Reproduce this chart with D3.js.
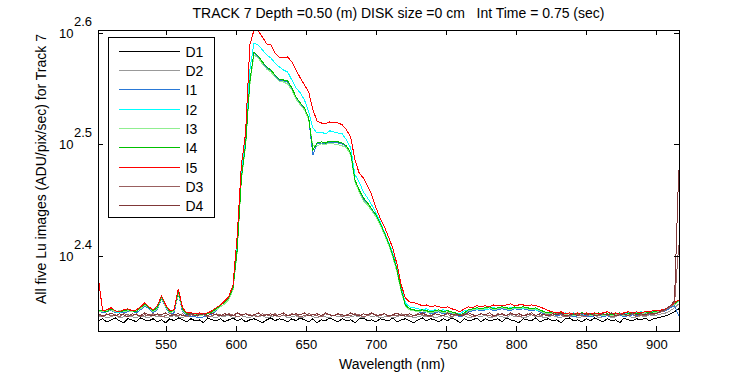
<!DOCTYPE html>
<html>
<head>
<meta charset="utf-8">
<script src="https://cdn.jsdelivr.net/npm/d3@7"></script>
<style>
  body { margin: 0; background: #fff; }
  svg { display: block; font-family: 'Liberation Sans', Arial, sans-serif; }
</style>
</head>
<body>
<svg id="chart" width="750" height="375"></svg>
<script>
// wavelength sampling of the spectra (nm), one sample every 3 nm
const wavelengths = d3.range(502, 917, 3)

// tick labels
const xTicks = [550, 600, 650, 700, 750, 800, 850, 900]
const yTickExponents = ['2.4', '2.5', '2.6']

const seriesNames = ['D1', 'D2', 'I1', 'I2', 'I3', 'I4', 'I5', 'D3', 'D4']

// Lu values (ADU/pix/sec)
const d1 = [
  219.7, 220.6, 219.2, 220.1, 221.0, 219.7, 218.8, 220.6, 220.1, 219.2,
  221.0, 220.1, 219.7, 220.6, 219.2, 220.1, 218.8, 220.6, 219.7, 221.0,
  220.1, 219.2, 220.6, 219.7, 220.1, 218.8, 221.0, 220.1, 219.7, 220.6,
  219.2, 220.1, 221.0, 219.7, 220.6, 219.2, 220.1, 220.6, 219.7, 218.8,
  220.1, 221.0, 219.7, 220.6, 220.1, 219.2, 220.6, 219.7, 221.0, 220.1,
  219.2, 220.6, 218.8, 220.1, 219.7, 221.0, 220.1, 219.2, 220.6, 219.7,
  220.1, 218.8, 220.6, 221.0, 219.7, 220.1, 219.2, 220.6, 220.1, 219.7,
  221.0, 219.2, 220.1, 220.6, 219.7, 218.8, 220.1, 221.0, 219.7, 220.6,
  220.1, 219.2, 220.6, 219.7, 221.0, 220.1, 218.8, 220.6, 219.7, 220.1,
  221.0, 219.2, 220.6, 219.7, 220.1, 220.6, 219.2, 221.0, 220.1, 219.7,
  218.8, 220.6, 220.1, 219.7, 221.0, 219.2, 220.1, 220.6, 219.7, 220.1,
  218.8, 220.6, 221.0, 219.7, 220.1, 219.2, 220.6, 219.7, 221.0, 220.1,
  219.2, 220.6, 219.7, 220.1, 218.8, 221.0, 220.1, 219.7, 220.6, 220.1,
  221.0, 219.7, 220.6, 221.0, 221.5, 222.0, 222.9, 223.8, 225.2
]
const d2 = [
  221.5, 222.0, 221.0, 221.5, 222.4, 221.0, 221.5, 222.0, 221.5, 221.0,
  222.0, 221.5, 221.0, 222.4, 221.5, 222.0, 221.0, 221.5, 222.0, 221.5,
  221.0, 222.0, 221.5, 222.4, 221.0, 221.5, 222.0, 221.5, 221.0, 222.0,
  221.5, 222.4, 221.0, 221.5, 222.0, 221.5, 221.0, 222.4, 221.5, 222.0,
  221.0, 221.5, 222.0, 221.5, 222.4, 221.0, 221.5, 222.0, 221.0, 221.5,
  222.4, 221.5, 221.0, 222.0, 221.5, 221.0, 222.4, 221.5, 222.0, 221.0,
  221.5, 222.0, 221.5, 221.0, 222.4, 221.5, 222.0, 221.0, 221.5, 222.0,
  221.0, 221.5, 222.4, 221.5, 222.0, 221.0, 221.5, 222.0, 221.5, 222.4,
  221.0, 221.5, 222.0, 221.5, 221.0, 222.4, 221.5, 222.0, 221.0, 221.5,
  222.0, 221.5, 222.4, 221.0, 221.5, 222.0, 221.5, 221.0, 222.4, 221.5,
  222.0, 221.0, 221.5, 222.4, 221.5, 222.0, 221.0, 221.5, 222.0, 221.5,
  221.0, 222.4, 221.5, 222.0, 221.0, 221.5, 222.0, 221.5, 222.4, 221.0,
  221.5, 222.0, 221.0, 221.5, 222.4, 221.5, 222.0, 221.0, 221.5, 222.0,
  221.5, 222.4, 222.0, 222.4, 222.9, 223.3, 224.3, 225.7, 227.5
]
const i1 = [
  224.3, 223.3, 223.8, 224.7, 223.3, 223.8, 223.3, 223.8, 224.3, 223.3,
  224.7, 226.6, 225.2, 223.3, 224.7, 229.9, 225.7, 222.9, 223.3, 232.2,
  223.8, 222.0, 221.5, 221.5, 221.0, 221.5, 222.0, 222.9, 224.3, 226.1,
  227.5, 229.9, 234.7, 253.7, 294.5, 315.3, 359.0, 382.0, 379.0, 374.2,
  370.4, 368.1, 364.3, 361.3, 360.5, 359.8, 354.6, 348.2, 343.8, 340.3,
  333.4, 309.5, 316.6, 317.2, 316.6, 317.9, 317.2, 317.2, 316.6, 314.7,
  310.2, 293.3, 287.3, 282.6, 279.7, 276.2, 272.9, 268.4, 262.9, 257.4,
  251.1, 243.6, 233.7, 226.6, 224.7, 224.3, 223.8, 223.3, 223.8, 222.9,
  223.3, 223.8, 222.9, 223.3, 222.9, 222.4, 221.5, 222.4, 223.8, 224.3,
  224.7, 224.3, 224.7, 225.2, 224.3, 224.7, 225.2, 224.7, 224.3, 225.2,
  224.7, 225.2, 224.7, 224.3, 224.7, 223.8, 222.9, 222.4, 222.9, 222.0,
  222.4, 222.0, 222.4, 221.5, 222.0, 222.4, 222.0, 221.5, 222.0, 222.4,
  221.5, 222.0, 221.5, 222.0, 222.4, 221.5, 222.0, 222.4, 222.0, 222.4,
  222.9, 222.4, 222.9, 223.3, 223.8, 224.3, 225.7, 226.6, 222.0
]
const i2 = [
  224.3, 223.8, 224.3, 225.2, 223.8, 223.3, 224.3, 224.7, 223.8, 224.3,
  225.7, 227.5, 225.7, 224.3, 226.1, 230.3, 226.6, 223.8, 224.3, 232.7,
  225.2, 222.9, 222.4, 222.4, 222.9, 222.4, 222.9, 223.8, 225.2, 226.6,
  228.4, 230.3, 235.6, 256.9, 298.8, 319.2, 368.8, 390.0, 388.4, 384.4,
  380.5, 378.1, 374.2, 371.2, 368.8, 367.3, 361.3, 355.4, 351.8, 346.7,
  338.2, 327.3, 323.8, 324.5, 323.2, 325.3, 324.5, 323.8, 323.2, 319.2,
  314.0, 297.0, 292.7, 286.7, 283.2, 279.1, 274.6, 269.5, 264.0, 258.5,
  252.7, 245.0, 235.1, 228.0, 226.1, 225.7, 225.2, 224.7, 225.2, 224.3,
  224.7, 224.3, 224.7, 224.3, 223.8, 223.3, 222.9, 224.3, 224.7, 225.2,
  224.7, 225.2, 224.7, 225.2, 225.7, 225.2, 225.7, 225.2, 225.7, 225.2,
  225.7, 225.2, 225.7, 225.2, 224.7, 224.3, 223.8, 223.3, 222.9, 223.3,
  222.9, 223.3, 222.9, 223.3, 222.4, 222.9, 223.3, 222.4, 222.9, 223.3,
  222.9, 222.4, 223.3, 222.9, 223.3, 222.9, 223.3, 222.9, 223.3, 223.8,
  223.3, 223.8, 223.8, 224.3, 224.7, 225.2, 226.1, 227.5, 228.9
]
const i3 = [
  224.3, 223.8, 224.3, 224.7, 223.8, 224.3, 223.8, 224.3, 223.8, 224.3,
  225.2, 227.0, 225.7, 223.8, 225.2, 230.3, 226.1, 223.3, 224.3, 232.7,
  224.7, 222.4, 222.9, 222.4, 222.0, 222.4, 222.9, 223.3, 224.7, 226.1,
  227.5, 229.4, 234.2, 252.7, 293.9, 314.7, 357.6, 380.5, 378.1, 373.4,
  369.6, 367.3, 363.5, 360.5, 359.8, 358.3, 353.9, 347.4, 343.1, 339.6,
  332.7, 315.3, 315.3, 316.6, 316.0, 317.2, 316.6, 316.0, 315.3, 314.0,
  309.5, 292.7, 286.7, 281.4, 279.1, 275.7, 272.3, 267.9, 262.4, 256.9,
  250.5, 243.1, 233.2, 226.6, 224.7, 224.3, 223.8, 224.3, 223.8, 223.3,
  223.8, 224.3, 223.3, 223.8, 223.3, 222.9, 222.0, 222.9, 224.3, 224.7,
  225.2, 224.7, 225.2, 225.7, 224.7, 225.2, 225.7, 225.2, 224.7, 225.7,
  225.2, 225.7, 225.2, 224.7, 225.2, 224.3, 223.3, 222.9, 223.3, 222.4,
  222.9, 222.4, 222.9, 222.0, 222.4, 222.9, 222.4, 222.0, 222.4, 222.9,
  222.0, 222.4, 222.0, 222.4, 222.9, 222.0, 222.4, 222.9, 222.4, 222.9,
  223.3, 222.9, 223.3, 223.8, 224.3, 224.7, 226.1, 227.0, 228.9
]
const i4 = [
  224.7, 224.3, 223.8, 225.2, 224.3, 223.8, 224.3, 224.7, 224.3, 223.8,
  225.7, 227.5, 225.7, 224.3, 225.7, 230.8, 226.6, 223.8, 224.7, 233.7,
  225.2, 222.9, 222.4, 222.9, 222.4, 222.4, 222.9, 223.8, 225.2, 226.6,
  228.4, 230.3, 235.1, 254.3, 295.1, 316.0, 359.8, 382.8, 379.7, 375.0,
  371.2, 368.8, 365.0, 362.0, 361.3, 360.5, 355.4, 348.9, 344.6, 341.0,
  334.1, 312.7, 317.2, 317.9, 317.2, 318.5, 317.9, 317.9, 317.2, 315.3,
  310.8, 293.9, 287.9, 283.2, 280.3, 276.8, 273.5, 268.9, 263.5, 258.0,
  251.6, 244.1, 234.2, 227.0, 225.2, 224.7, 224.3, 224.7, 224.3, 223.8,
  224.3, 224.7, 223.8, 224.3, 223.8, 223.3, 222.4, 223.3, 224.7, 225.2,
  225.7, 225.2, 225.7, 226.1, 225.2, 225.7, 226.1, 225.7, 225.2, 226.1,
  225.7, 226.1, 225.7, 225.2, 225.7, 224.7, 223.8, 223.3, 223.8, 222.9,
  223.3, 222.9, 223.3, 222.4, 222.9, 223.3, 222.9, 222.4, 222.9, 223.3,
  222.4, 222.9, 222.4, 222.9, 223.3, 222.4, 222.9, 223.3, 222.9, 223.3,
  223.8, 223.3, 223.8, 224.3, 224.7, 225.2, 226.6, 227.5, 229.4
]
const i5 = [
  239.6, 224.3, 224.7, 225.7, 224.3, 223.8, 224.7, 225.2, 224.3, 224.7,
  226.1, 228.0, 226.1, 224.7, 226.6, 231.3, 227.0, 224.3, 224.7, 234.7,
  225.7, 223.3, 223.3, 222.9, 223.3, 222.9, 223.3, 224.3, 225.7, 227.0,
  228.9, 230.8, 236.6, 261.8, 303.2, 323.8, 388.4, 400.6, 399.8, 394.9,
  389.2, 388.4, 382.0, 378.9, 378.1, 378.9, 375.0, 368.8, 362.8, 357.6,
  352.5, 339.6, 332.0, 330.6, 330.0, 331.3, 330.6, 330.6, 329.3, 325.9,
  321.2, 306.3, 298.2, 295.1, 290.3, 284.9, 277.4, 271.7, 266.8, 261.2,
  255.3, 246.9, 236.6, 230.3, 228.4, 228.0, 227.5, 226.6, 227.0, 226.1,
  226.6, 226.1, 225.7, 226.1, 225.2, 224.7, 223.8, 225.2, 226.1, 225.7,
  226.6, 226.1, 226.6, 226.1, 227.0, 226.6, 226.6, 227.0, 227.5, 226.6,
  227.0, 227.0, 226.6, 227.0, 226.6, 226.1, 225.2, 224.3, 223.8, 223.3,
  223.8, 222.9, 223.3, 222.9, 223.3, 222.9, 223.3, 222.9, 223.3, 222.9,
  223.3, 223.8, 222.9, 223.3, 222.9, 223.3, 223.8, 223.3, 223.8, 223.3,
  223.8, 223.8, 224.3, 224.3, 224.7, 225.2, 226.6, 228.0, 229.4
]
const d3v = [
  222.4, 221.5, 222.9, 222.0, 222.4, 221.5, 222.9, 222.4, 222.0, 222.9,
  221.5, 222.4, 222.0, 222.9, 222.4, 221.5, 222.0, 222.9, 222.4, 222.0,
  222.9, 221.5, 222.4, 222.0, 222.9, 222.4, 221.5, 222.0, 222.9, 222.4,
  222.0, 222.9, 222.4, 221.5, 222.0, 222.9, 222.4, 222.0, 221.5, 222.9,
  222.4, 222.0, 222.9, 221.5, 222.4, 222.0, 222.9, 222.4, 221.5, 222.0,
  222.9, 222.4, 222.0, 221.5, 222.9, 222.4, 222.0, 222.9, 221.5, 222.4,
  222.0, 222.9, 222.4, 221.5, 222.0, 222.9, 222.4, 222.0, 222.9, 221.5,
  222.4, 222.0, 222.9, 222.4, 221.5, 222.0, 222.9, 222.4, 222.0, 221.5,
  222.9, 222.4, 222.0, 222.9, 221.5, 222.4, 222.0, 222.9, 222.4, 221.5,
  222.0, 222.9, 222.4, 222.0, 221.5, 222.9, 222.4, 222.0, 222.9, 222.4,
  221.5, 222.0, 222.9, 222.4, 222.0, 221.5, 222.9, 222.4, 222.0, 222.9,
  222.4, 221.5, 222.0, 222.9, 222.4, 222.0, 221.5, 222.9, 222.4, 222.0,
  222.9, 222.4, 221.5, 222.0, 222.9, 222.4, 222.0, 222.9, 221.5, 222.4,
  222.0, 222.9, 222.4, 223.3, 223.8, 224.7, 226.1, 227.5, 257.0
]
const d4 = [
  222.9, 222.0, 222.4, 223.3, 222.0, 222.9, 222.4, 221.5, 222.9, 222.4,
  222.0, 223.3, 222.4, 222.0, 222.9, 222.4, 223.3, 222.0, 222.4, 222.9,
  222.0, 222.4, 223.3, 222.0, 222.4, 222.9, 222.0, 223.3, 222.4, 222.0,
  222.9, 222.4, 222.0, 223.3, 222.4, 222.9, 222.0, 222.4, 223.3, 222.0,
  222.4, 222.9, 222.0, 222.4, 223.3, 222.0, 222.4, 222.9, 222.4, 223.3,
  222.0, 222.4, 222.9, 222.0, 223.3, 222.4, 222.0, 222.9, 222.4, 222.0,
  223.3, 222.4, 222.0, 222.9, 222.4, 223.3, 222.0, 222.4, 222.9, 222.0,
  222.4, 223.3, 222.0, 222.4, 222.9, 222.0, 222.4, 223.3, 222.4, 222.0,
  222.9, 222.4, 222.0, 223.3, 222.4, 222.9, 222.0, 222.4, 223.3, 222.4,
  222.0, 222.9, 222.4, 223.3, 222.0, 222.4, 222.9, 222.0, 223.3, 222.4,
  222.9, 222.0, 222.4, 223.3, 222.0, 222.9, 222.4, 222.0, 222.9, 222.4,
  223.3, 222.0, 222.4, 222.9, 222.0, 223.3, 222.4, 222.9, 222.0, 222.4,
  222.9, 222.4, 223.3, 222.0, 222.4, 222.9, 222.0, 223.3, 222.4, 222.9,
  222.4, 223.3, 222.9, 223.3, 224.3, 225.2, 226.6, 228.9, 300.0
]

const seriesValues = [d1, d2, i1, i2, i3, i4, i5, d3v, d4]
const seriesColors = ['#000000', '#999999', '#2a78d6', '#00ffff', '#90ee90',
  '#00c000', '#ff0000', '#996060', '#803838']

const svg = d3.select('#chart')
const plot = { left: 98, right: 679, top: 30, bottom: 331 }

const x = d3.scaleLinear().domain([501.7, 916.2]).range([plot.left, plot.right])
const y = d3.scaleLog().domain([215.1, 400.6]).range([plot.bottom, plot.top])
const yTickValues = yTickExponents.map(e => Math.pow(10, +e))

svg.append('defs').append('clipPath').attr('id', 'clip')
  .append('rect')
  .attr('x', plot.left).attr('y', plot.top)
  .attr('width', plot.right - plot.left).attr('height', plot.bottom - plot.top)

// series lines
const line = d3.line()
  .x((v, i) => x(wavelengths[i]))
  .y(v => y(v))

svg.append('g').attr('clip-path', 'url(#clip)')
  .selectAll('path')
  .data(seriesNames.map((name, i) => ({ name, values: seriesValues[i], color: seriesColors[i] })))
  .join('path')
  .attr('d', d => line(d.values))
  .attr('fill', 'none')
  .attr('stroke', d => d.color)
  .attr('stroke-width', 1)
  .attr('shape-rendering', 'crispEdges')

// axes, ticks pointing inward like the original
function styleAxis (g) {
  g.select('.domain').remove()
  g.selectAll('.tick line').attr('stroke', '#000').attr('shape-rendering', 'crispEdges')
  g.selectAll('.tick text').attr('fill', '#000').style('font-size', '13px')
    .style('font-family', "'Liberation Sans', Arial, sans-serif")
}

svg.append('g').attr('transform', `translate(0,${plot.bottom})`)
  .call(d3.axisBottom(x).tickValues(xTicks).tickSizeInner(-5).tickSizeOuter(0).tickPadding(9))
  .call(styleAxis)
svg.append('g').attr('transform', `translate(0,${plot.top})`)
  .call(d3.axisTop(x).tickValues(xTicks).tickSizeInner(-5).tickSizeOuter(0).tickFormat(''))
  .call(styleAxis)
svg.append('g').attr('transform', `translate(${plot.left},0)`)
  .call(d3.axisLeft(y).tickValues(yTickValues).tickSizeInner(-5).tickSizeOuter(0).tickFormat(''))
  .call(styleAxis)
svg.append('g').attr('transform', `translate(${plot.right},0)`)
  .call(d3.axisRight(y).tickValues(yTickValues).tickSizeInner(-5).tickSizeOuter(0).tickFormat(''))
  .call(styleAxis)

// y tick labels as 10^exponent
const yLabels = svg.append('g').style('font-size', '13px').attr('fill', '#000')
yTickExponents.forEach(e => {
  const ty = y(Math.pow(10, +e))
  yLabels.append('text').attr('x', 73.5).attr('y', ty + 5).attr('text-anchor', 'end').text('10')
  yLabels.append('text').attr('x', 74).attr('y', ty - 7).text(e)
})

svg.append('rect')
  .attr('x', plot.left + 0.5).attr('y', plot.top + 0.5)
  .attr('width', plot.right - plot.left).attr('height', plot.bottom - plot.top)
  .attr('fill', 'none').attr('stroke', '#000')

// titles
svg.append('text').attr('x', 398.5).attr('y', 18).attr('text-anchor', 'middle')
  .style('font-size', '14px')
  .text('TRACK 7 Depth =0.50 (m) DISK size =0 cm   Int Time = 0.75 (sec)')
  .attr('xml:space', 'preserve').style('white-space', 'pre')
svg.append('text').attr('x', 392).attr('y', 369).attr('text-anchor', 'middle')
  .style('font-size', '14px').text('Wavelength (nm)')
svg.append('text').attr('transform', 'translate(46,169) rotate(-90)').attr('text-anchor', 'middle')
  .style('font-size', '14px').text('All five Lu images (ADU/pix/sec) for Track 7')

// legend
const legend = svg.append('g')
legend.append('rect')
  .attr('x', 108.5).attr('y', 37.5).attr('width', 106).attr('height', 180)
  .attr('fill', '#fff').attr('stroke', '#000')
seriesNames.forEach((name, i) => {
  const ly = Math.round(50.7 + i * 19.3) + 0.5
  legend.append('line').attr('x1', 119).attr('x2', 180).attr('y1', ly).attr('y2', ly)
    .attr('stroke', seriesColors[i]).attr('stroke-width', 1)
  legend.append('text').attr('x', 185.5).attr('y', ly + 5).style('font-size', '14px').text(name)
})
</script>
</body>
</html>
